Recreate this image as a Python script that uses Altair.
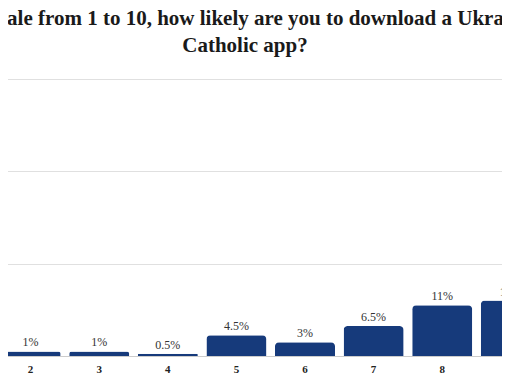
import altair as alt
import pandas as pd

categories = ["2", "3", "4", "5", "6", "7", "8", "9"]
values = [1, 1, 0.5, 4.5, 3, 6.5, 11, 12]
labels = ["1%", "1%", "0.5%", "4.5%", "3%", "6.5%", "11%", "12%"]
scale_domain = ["1", "2", "3", "4", "5", "6", "7", "8", "9", "10"]
y_ticks = [0, 20, 40, 60]

df = pd.DataFrame({"cat": categories, "val": values, "label": labels})

x_enc = alt.X(
    "cat:N",
    sort=scale_domain,
    scale=alt.Scale(domain=scale_domain, range=[-80.3, 605.7],
                    paddingInner=0.125, paddingOuter=0.0625),
    axis=alt.Axis(title=None, labelAngle=0, ticks=False, domain=True,
                  domainColor="#cccccc", labelFont="Liberation Serif",
                  labelFontWeight="bold", labelFontSize=11, labelColor="#222222",
                  labelPadding=7, grid=False),
)
y_enc = alt.Y(
    "val:Q",
    scale=alt.Scale(domain=[0, 60], nice=False),
    axis=alt.Axis(title=None, labels=False, ticks=False, domain=False,
                  values=y_ticks, grid=True, gridColor="#e0e0e0"),
)

bars = alt.Chart(df).mark_bar(
    color="#163a7b", cornerRadiusTopLeft=4, cornerRadiusTopRight=4
).encode(x=x_enc, y=y_enc)

text = alt.Chart(df).mark_text(
    baseline="bottom", dy=-2, font="Liberation Serif", fontSize=12, color="#333333"
).encode(x=alt.X("cat:N", sort=scale_domain), y="val:Q", text="label:N")

chart = (bars + text).properties(
    width=494,
    height=277,
    padding={"left": 0, "right": 0, "top": 71, "bottom": 18},
    autosize=alt.AutoSizeParams(type="none"),
    title=alt.TitleParams(
        text=["On a scale from 1 to 10, how likely are you to download a Ukrainian",
              "Catholic app?"],
        font="Liberation Serif", fontSize=21, fontWeight="bold", color="#1a1a1a",
        anchor="middle", dx=-10, lineHeight=27.5, baseline="alphabetic", offset=6,
    ),
).configure_view(stroke=None)

chart.save("out.html", embed_options={"renderer": "svg", "actions": False})
